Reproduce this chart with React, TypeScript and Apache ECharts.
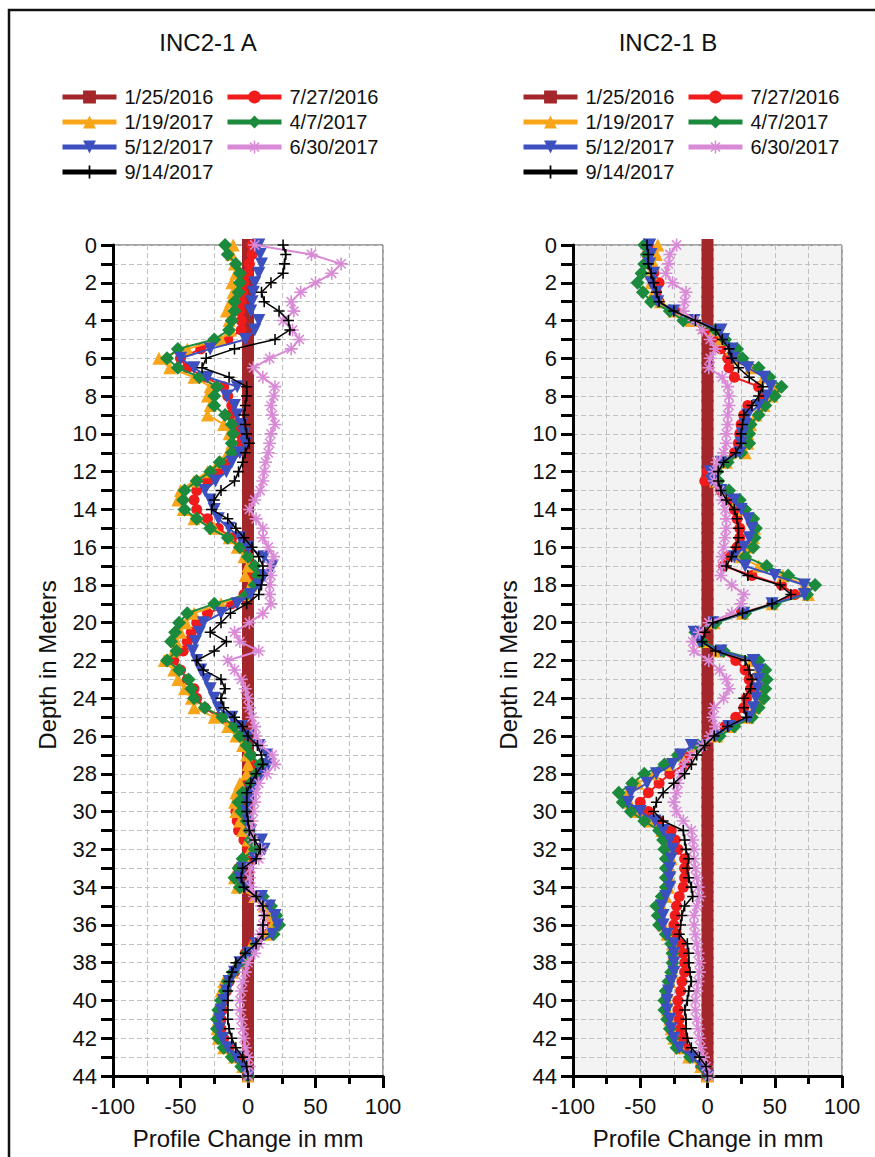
import React, { useEffect, useRef } from "react";
import * as echarts from "echarts";

// Depth of each reading (m)
const DEPTHS = [
  0, 0.5, 1, 1.5, 2, 2.5, 3, 3.5, 4, 4.5, 5, 5.5, 6, 6.5, 7, 7.5, 8, 8.5, 9, 9.5, 10, 10.5,
  11, 11.5, 12, 12.5, 13, 13.5, 14, 14.5, 15, 15.5, 16, 16.5, 17, 17.5, 18, 18.5, 19, 19.5, 20, 20.5, 21, 21.5,
  22, 22.5, 23, 23.5, 24, 24.5, 25, 25.5, 26, 26.5, 27, 27.5, 28, 28.5, 29, 29.5, 30, 30.5, 31, 31.5, 32, 32.5,
  33, 33.5, 34, 34.5, 35, 35.5, 36, 36.5, 37, 37.5, 38, 38.5, 39, 39.5, 40, 40.5, 41, 41.5, 42, 42.5, 43, 43.5, 44,
];

const SERIES_NAMES = ["1/25/2016", "7/27/2016", "1/19/2017", "4/7/2017", "5/12/2017", "6/30/2017", "9/14/2017"];

// Baseline reading (1/25/2016) is zero everywhere
const REF_ZERO = [
  0, 0, 0, 0, 0, 0, 0, 0, 0, 0, 0, 0, 0, 0, 0, 0, 0, 0, 0, 0, 0, 0,
  0, 0, 0, 0, 0, 0, 0, 0, 0, 0, 0, 0, 0, 0, 0, 0, 0, 0, 0, 0, 0, 0,
  0, 0, 0, 0, 0, 0, 0, 0, 0, 0, 0, 0, 0, 0, 0, 0, 0, 0, 0, 0, 0, 0,
  0, 0, 0, 0, 0, 0, 0, 0, 0, 0, 0, 0, 0, 0, 0, 0, 0, 0, 0, 0, 0, 0, 0,
];

// ---------- INC2-1 A (mm) ----------
const A_07272016 = [
  3, 3, 1, 0, -3, -4, -5, -6, -5, -5, -15, -35, -50, -45, -32, -18, -15, -12, -13, -9, -6, -5,
  -10, -16, -22, -30, -38, -40, -38, -30, -22, -12, -5, 0, 3, 4, 3, -3, -12, -30, -38, -42, -45, -48,
  -55, -50, -45, -40, -38, -32, -22, -12, -6, -2, 2, 4, 3, 0, -4, -8, -9, -8, -7, -3, 0, 1,
  -7, -8, -5, 6, 14, 17, 18, 14, 4, -2, -6, -10, -14, -16, -18, -19, -20, -20, -18, -14, -8, -3, 0,
];
const A_01192017 = [
  -11, -12, -10, -9, -12, -11, -13, -16, -14, -13, -20, -45, -66, -58, -40, -28, -30, -28, -30, -18, -14, -12,
  -15, -22, -30, -40, -50, -52, -48, -40, -25, -14, -8, -3, 0, -2, 2, -2, -20, -40, -46, -50, -53, -55,
  -62, -55, -52, -47, -42, -40, -25, -15, -9, -4, -1, 0, -1, -6, -9, -10, -9, -6, -4, 0, 2, -2,
  -8, -10, -8, 5, 12, 16, 18, 14, 3, -2, -8, -12, -18, -20, -20, -22, -22, -23, -22, -18, -10, -4, 0,
];
const A_04072017 = [
  -17, -15, -9, -6, -6, -7, -10, -10, -12, -14, -25, -52, -60, -52, -36, -23, -25, -25, -17, -12, -11, -12,
  -12, -21, -28, -38, -47, -48, -47, -38, -28, -15, -6, 0, 5, 7, 5, -1, -25, -45, -51, -54, -57, -53,
  -60, -51, -44, -42, -40, -32, -19, -10, -6, -1, 2, 9, 6, 2, -4, -7, -5, -1, 1, 2, 5, -4,
  -7, -10, -6, 11, 17, 21, 23, 19, 6, -1, -6, -11, -15, -17, -20, -22, -23, -23, -22, -18, -12, -5, 0,
];
const A_05122017 = [
  8, 9, 10, 8, 5, 4, 3, 2, 8, 5, -2, -28, -50, -40, -30, -8, -16, -10, -8, -5, -3, -2,
  -6, -12, -16, -24, -32, -28, -25, -22, -14, -6, 0, 12, 18, 12, 8, 2, -8, -20, -33, -36, -39, -41,
  -38, -35, -31, -28, -25, -22, -12, -5, 0, 8, 14, 15, 10, 6, 2, 0, -1, 0, 2, 10, 12, 5,
  -4, -6, -2, 10, 16, 20, 22, 18, 6, 0, -6, -10, -14, -16, -18, -20, -21, -21, -19, -15, -9, -3, 0,
];
const A_06302017 = [
  5, 47, 69, 62, 50, 39, 32, 34, 26, 33, 38, 32, 16, 4, 11, 20, 19, 17, 18, 20, 17, 16,
  15, 13, 12, 11, 9, 5, 1, 6, 11, 11, 15, 19, 16, 17, 16, 16, 17, 11, 1, -10, -6, 8,
  -15, -10, -5, -2, 0, 1, 3, 5, 6, 10, 18, 20, 14, 8, 6, 5, 4, 3, 2, 4, 10, 8,
  2, 1, 2, 5, 10, 12, 11, 9, 8, 5, 0, -2, -4, -5, -6, -6, -5, -4, -3, -2, 0, 1, 0,
];
const A_09142017 = [
  26, 28, 27, 26, 17, 10, 12, 23, 30, 31, 20, -10, -31, -34, -14, -1, -1, -2, -3, -2, -1, 1,
  -2, -4, -7, -10, -20, -25, -27, -15, -9, -3, 3, 8, 11, 11, 10, 8, -1, -13, -20, -28, -16, -25,
  -38, -33, -20, -17, -20, -18, -10, -4, 0, 7, 10, 11, 6, 2, -1, -1, -1, 0, 1, 5, 9, 6,
  -4, -5, -3, 6, 11, 12, 11, 11, 6, -2, -9, -12, -14, -15, -15, -15, -15, -14, -12, -9, -4, -1, 0,
];

// ---------- INC2-1 B (mm) ----------
const B_07272016 = [
  -44, -45, -44, -40, -36, -38, -36, -24, -15, -2, 5, 10, 15, 16, 20, 38, 42, 30, 27, 25, 24, 23,
  20, 10, 0, -2, 10, 17, 20, 22, 24, 24, 22, 15, 12, 33, 55, 65, 48, 25, 4, -6, -3, 10,
  21, 28, 31, 32, 29, 27, 21, 13, 4, -9, -14, -17, -28, -36, -44, -50, -44, -36, -27, -24, -22, -17,
  -17, -17, -18, -21, -23, -24, -25, -23, -20, -18, -17, -17, -19, -20, -22, -22, -21, -20, -18, -17, -12, -5, 0,
];
const B_01192017 = [
  -37, -38, -40, -42, -42, -40, -35, -25, -12, 5, 10, 18, 22, 32, 42, 50, 48, 42, 36, 32, 30, 30,
  28, 14, 4, 6, 14, 22, 27, 33, 35, 34, 30, 24, 38, 56, 72, 75, 48, 26, 5, -8, -3, 8,
  33, 38, 40, 40, 38, 35, 30, 17, 7, -10, -20, -30, -40, -52, -60, -58, -52, -42, -34, -30, -28, -27,
  -28, -28, -29, -31, -34, -34, -33, -30, -26, -25, -25, -26, -28, -30, -30, -30, -28, -27, -25, -20, -14, -5, 0,
];
const B_04072017 = [
  -47, -45, -47, -49, -52, -48, -42, -28, -18, 6, 13, 22, 26, 38, 46, 55, 50, 43, 38, 32, 31, 31,
  25, 15, 7, 8, 16, 24, 28, 34, 36, 35, 34, 28, 44, 60, 80, 74, 50, 28, 6, -9, -4, 12,
  38, 43, 44, 43, 42, 38, 33, 20, 9, -7, -22, -32, -47, -56, -66, -63, -57, -47, -36, -33, -32, -31,
  -31, -31, -31, -34, -38, -37, -36, -31, -27, -26, -26, -27, -29, -31, -32, -32, -30, -28, -26, -23, -13, -4, 0,
];
const B_05122017 = [
  -43, -42, -43, -40, -42, -38, -37, -25, -10, 10, 12, 18, 19, 30, 42, 47, 44, 38, 30, 28, 26, 25,
  24, 10, 2, 3, 10, 20, 25, 30, 33, 31, 27, 20, 28, 50, 72, 72, 48, 27, 4, -10, -6, 10,
  34, 38, 38, 37, 36, 34, 31, 16, 6, -12, -20, -26, -38, -45, -57, -59, -50, -39, -33, -28, -26, -27,
  -28, -28, -28, -31, -34, -33, -33, -30, -25, -25, -25, -25, -27, -29, -30, -30, -28, -27, -25, -21, -11, -4, 0,
];
const B_06302017 = [
  -23, -28, -29, -31, -26, -16, -17, -18, -10, -4, 2, 6, 2, 1, 11, 15, 16, 16, 15, 15, 14, 14,
  12, 7, 5, 5, 9, 11, 13, 14, 14, 13, 12, 11, 11, 10, 18, 27, 25, 18, 1, -6, -11, -10,
  1, 9, 14, 16, 12, 5, 4, 6, 2, -4, -12, -17, -20, -22, -23, -25, -23, -18, -12, -11, -10, -10,
  -9, -8, -7, -6, -8, -10, -10, -9, -8, -7, -6, -6, -7, -8, -9, -9, -8, -7, -6, -5, -3, -1, 1,
];
const B_09142017 = [
  -45, -44, -44, -42, -40, -38, -36, -25, -9, 6, 11, 16, 18, 23, 31, 41, 38, 33, 27, 26, 25, 25,
  21, 12, 8, 8, 10, 14, 20, 22, 23, 23, 21, 18, 14, 30, 54, 62, 48, 26, 4, -2, -4, 6,
  28, 31, 33, 32, 27, 27, 29, 15, 5, -2, -8, -12, -17, -25, -33, -38, -40, -33, -18, -17, -16, -14,
  -15, -14, -12, -11, -17, -19, -20, -21, -15, -14, -14, -13, -12, -14, -15, -17, -16, -16, -15, -12, -6, -1, 0,
];

const X_TICKS_MIN = -100;
const X_TICKS_MAX = 100;
const DEPTH_MAX = 44;

const FONT = "'Liberation Sans', Arial, sans-serif";

const ASTERISK =
  "path://M0 8.8H20V11.2H0Z M8.8 0H11.2V20H8.8Z M2.1 3.8L3.8 2.1L17.9 16.2L16.2 17.9Z M16.2 2.1L17.9 3.8L3.8 17.9L2.1 16.2Z";
const PLUS = "path://M0 8.6H20V11.4H0Z M8.6 0H11.4V20H8.6Z";

const STYLES = [
  { color: "#a3262a", symbol: "rect", size: 12, width: 7, rotate: 0 },
  { color: "#f01c1c", symbol: "circle", size: 11, width: 2, rotate: 0 },
  { color: "#f9a51a", symbol: "triangle", size: 13, width: 2, rotate: 0 },
  { color: "#1c8a3c", symbol: "diamond", size: 14, width: 2, rotate: 0 },
  { color: "#3c4fbe", symbol: "triangle", size: 13, width: 2, rotate: 180 },
  { color: "#d98ad6", symbol: ASTERISK, size: 13, width: 2, rotate: 0 },
  { color: "#000000", symbol: PLUS, size: 11, width: 1.5, rotate: 0 },
];

const DATA_A = [REF_ZERO, A_07272016, A_01192017, A_04072017, A_05122017, A_06302017, A_09142017];
const DATA_B = [REF_ZERO, B_07272016, B_01192017, B_04072017, B_05122017, B_06302017, B_09142017];

function buildSeries(gridIndex: number, sets: number[][]) {
  return sets.map((vals, k) => {
    const st = STYLES[k];
    return {
      type: "line",
      name: SERIES_NAMES[k],
      xAxisIndex: gridIndex,
      yAxisIndex: gridIndex,
      data: DEPTHS.map((d, i) => [vals[i], d]),
      symbol: st.symbol,
      symbolSize: st.size,
      symbolRotate: st.rotate,
      symbolKeepAspect: true,
      showAllSymbol: true,
      clip: false,
      lineStyle: { color: st.color, width: st.width },
      itemStyle: { color: st.color, borderWidth: 0 },
      emphasis: { disabled: true },
      z: 2 + k * 0.01,
    };
  });
}

const gridLine = { show: true, lineStyle: { color: "#c0c0c0", width: 1, type: [5, 3] } };

function xAxis(gridIndex: number) {
  return {
    type: "value",
    gridIndex,
    min: X_TICKS_MIN,
    max: X_TICKS_MAX,
    interval: 50,
    position: "bottom",
    axisLine: { show: true, onZero: false, lineStyle: { color: "#000", width: 3 } },
    axisTick: { show: true, inside: false, length: 12, lineStyle: { color: "#000", width: 3 } },
    minorTick: { show: true, splitNumber: 2, length: 8, lineStyle: { color: "#000", width: 3 } },
    splitLine: gridLine,
    minorSplitLine: gridLine,
    axisLabel: { fontSize: 22, margin: 19, color: "#111", fontFamily: FONT },
  };
}

function yAxis(gridIndex: number) {
  return {
    type: "value",
    gridIndex,
    min: 0,
    max: DEPTH_MAX,
    interval: 1,
    inverse: true,
    axisLine: { show: true, onZero: false, lineStyle: { color: "#000", width: 3 } },
    axisTick: { show: true, inside: false, length: 12, lineStyle: { color: "#000", width: 3 } },
    splitLine: gridLine,
    axisLabel: {
      fontSize: 22,
      margin: 16,
      color: "#111",
      fontFamily: FONT,
      formatter: (v: number) => (v % 2 === 0 ? String(v) : ""),
    },
  };
}

function legend(left: number, names: string[]) {
  return {
    left,
    top: 87,
    padding: 0,
    orient: "vertical",
    selectedMode: false,
    data: names,
    itemWidth: 54,
    itemHeight: 16,
    itemGap: 5,
    lineStyle: { width: 5 },
    textStyle: { fontSize: 20, lineHeight: 20, color: "#111", fontFamily: FONT, padding: [0, 0, 0, 3] },
  };
}

export default function App() {
  const ref = useRef<HTMLDivElement>(null);
  useEffect(() => {
    if (!ref.current) return;
    const chart = echarts.init(ref.current, null, { renderer: "svg" });
    const col1 = [SERIES_NAMES[0], SERIES_NAMES[2], SERIES_NAMES[4], SERIES_NAMES[6]];
    const col2 = [SERIES_NAMES[1], SERIES_NAMES[3], SERIES_NAMES[5]];
    const textBase = { fontFamily: FONT, fill: "#111" };
    chart.setOption({
      animation: false,
      backgroundColor: "#ffffff",
      grid: [
        { left: 113, top: 245, width: 270, height: 831, show: true, backgroundColor: "#ffffff", borderColor: "#444", borderWidth: 1 },
        { left: 573, top: 245, width: 269, height: 831, show: true, backgroundColor: "#f3f3f3", borderColor: "#444", borderWidth: 1 },
      ],
      xAxis: [xAxis(0), xAxis(1)],
      yAxis: [yAxis(0), yAxis(1)],
      legend: [legend(60, col1), legend(225, col2), legend(521, col1), legend(686, col2)],
      series: [...buildSeries(0, DATA_A), ...buildSeries(1, DATA_B)],
      graphic: [
        { type: "rect", shape: { x: 9, y: 10, width: 1000, height: 2000 }, style: { fill: "none", stroke: "#111", lineWidth: 2.5 }, silent: true },
        { type: "text", x: 208, y: 42, style: { ...textBase, text: "INC2-1 A", fontSize: 24, textAlign: "center", textVerticalAlign: "middle" } },
        { type: "text", x: 668, y: 42, style: { ...textBase, text: "INC2-1 B", fontSize: 24, textAlign: "center", textVerticalAlign: "middle" } },
        { type: "text", x: 47, y: 665, rotation: Math.PI / 2, style: { ...textBase, text: "Depth in Meters", fontSize: 24, textAlign: "center", textVerticalAlign: "middle" } },
        { type: "text", x: 508, y: 665, rotation: Math.PI / 2, style: { ...textBase, text: "Depth in Meters", fontSize: 24, textAlign: "center", textVerticalAlign: "middle" } },
        { type: "text", x: 248, y: 1138, style: { ...textBase, text: "Profile Change in mm", fontSize: 24, textAlign: "center", textVerticalAlign: "middle" } },
        { type: "text", x: 708, y: 1138, style: { ...textBase, text: "Profile Change in mm", fontSize: 24, textAlign: "center", textVerticalAlign: "middle" } },
      ],
    });
    return () => chart.dispose();
  }, []);
  return <div ref={ref} style={{ position: "absolute", left: 0, top: 0, width: 875, height: 1157 }} />;
}
